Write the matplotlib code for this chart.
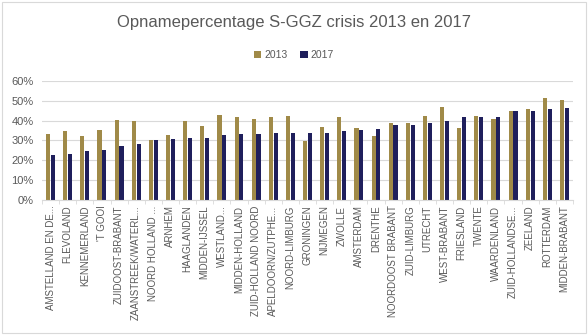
import matplotlib
matplotlib.use("Agg")
import matplotlib.pyplot as plt
import numpy as np
from matplotlib.ticker import PercentFormatter

regions = ["AMSTELLAND EN DE...", "FLEVOLAND", "KENNEMERLAND", "'T GOOI",
           "ZUIDOOST-BRABANT", "ZAANSTREEK/WATERL...", "NOORD HOLLAND ...",
           "ARNHEM", "HAAGLANDEN", "MIDDEN-IJSSEL", "WESTLAND...",
           "MIDDEN-HOLLAND", "ZUID-HOLLAND NOORD", "APELDOORN/ZUTPHE...",
           "NOORD-LIMBURG", "GRONINGEN", "NIJMEGEN", "ZWOLLE", "AMSTERDAM",
           "DRENTHE", "NOORDOOST BRABANT", "ZUID-LIMBURG", "UTRECHT",
           "WEST-BRABANT", "FRIESLAND", "TWENTE", "WAARDENLAND",
           "ZUID-HOLLANDSE...", "ZEELAND", "ROTTERDAM", "MIDDEN-BRABANT"]
pct_2013 = [33.5, 35.0, 32.5, 35.5, 40.1, 39.6, 30.0, 33.0, 39.6, 37.2, 43.0,
            41.6, 41.0, 41.6, 42.6, 29.6, 37.0, 42.0, 36.5, 32.5, 38.6, 39.0,
            42.6, 46.7, 36.5, 42.6, 40.6, 44.7, 45.7, 51.3, 50.3]
pct_2017 = [22.8, 23.4, 24.9, 25.4, 27.4, 28.4, 30.0, 31.0, 31.5, 31.5, 33.0,
            33.5, 33.5, 34.0, 34.0, 34.0, 34.0, 35.0, 35.5, 36.0, 37.6, 38.0,
            38.6, 39.6, 41.6, 41.6, 41.6, 44.7, 44.7, 45.7, 46.2]

gold = "#A08A48"
navy = "#1F1F5C"
grey = "#595959"

plt.rcParams['font.family'] = ['Liberation Sans', 'DejaVu Sans']

fig = plt.figure(figsize=(5.88, 3.35), dpi=100)
ax = fig.add_axes([42/588, 1 - 200/335, 531/588, 119/335])

x = np.arange(len(regions))
w = 0.24
ax.bar(x - w/2 - 0.02, pct_2013, w, color=gold, label="2013")
ax.bar(x + w/2 + 0.02, pct_2017, w, color=navy, label="2017")

ax.set_xlim(-0.5, len(regions) - 0.5)
ax.set_ylim(0, 60)
ax.set_yticks(range(0, 61, 10))
ax.yaxis.set_major_formatter(PercentFormatter(decimals=0))
ax.grid(axis="y", color="#D9D9D9", linewidth=0.8)
ax.set_axisbelow(True)
for s in ["top", "right", "left"]:
    ax.spines[s].set_visible(False)
ax.spines["bottom"].set_color("#D9D9D9")
ax.tick_params(axis="y", length=0, labelsize=8, labelcolor=grey, pad=6)
ax.set_xticks(x)
ax.set_xticklabels(regions, rotation=90, fontsize=7, color=grey)
ax.tick_params(axis="x", length=0, pad=4)
ax.set_xticks(np.arange(len(regions) + 1) - 0.5, minor=True)
ax.tick_params(axis="x", which="minor", length=3, color="#D9D9D9")

fig.text(0.5, 1 - 22/335, "Opnamepercentage S-GGZ crisis 2013 en 2017",
         ha="center", va="center", fontsize=12, color=grey)
fig.legend(loc="center", bbox_to_anchor=(0.5, 1 - 55/335), ncol=2, frameon=False,
           fontsize=7.5, handlelength=0.7, handleheight=0.7, columnspacing=1.2,
           handletextpad=0.3, labelcolor=grey)

border = plt.Rectangle((2/588, 2/335), 584/588, 331/335, transform=fig.transFigure,
                       fill=False, edgecolor="#D9D9D9", linewidth=0.8)
fig.patches.append(border)

fig.savefig("out.png", dpi=100)
